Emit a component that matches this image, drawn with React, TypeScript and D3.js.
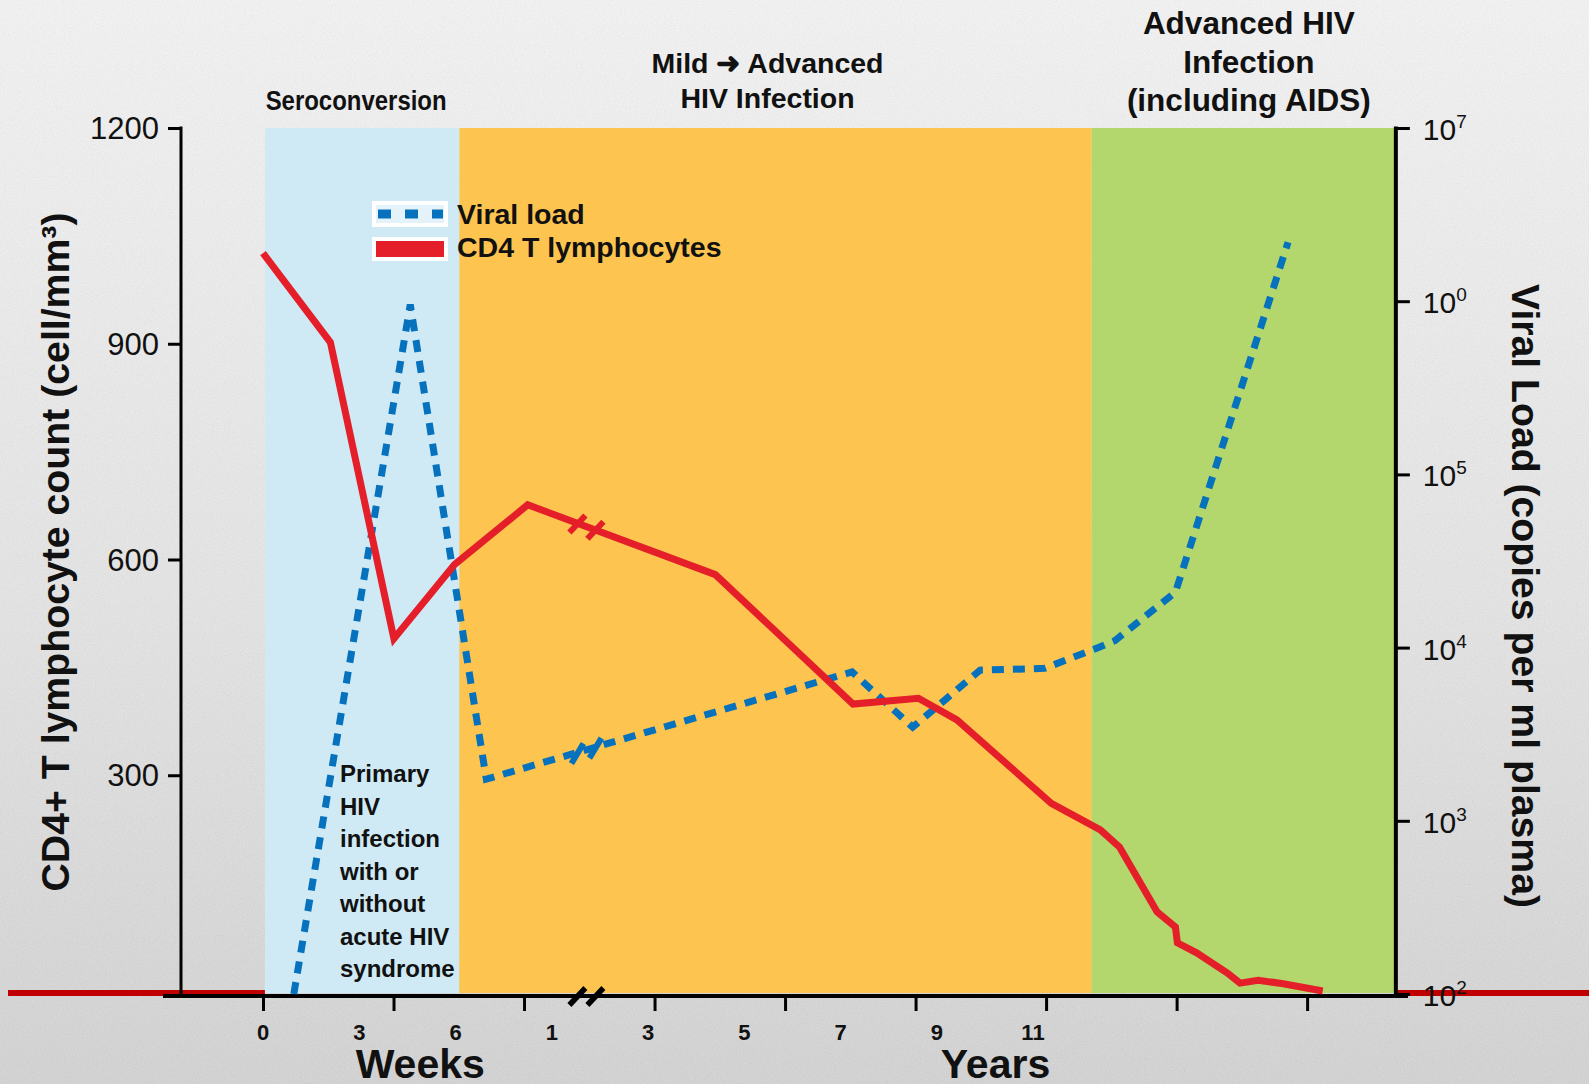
import React, { useRef, useEffect } from "react";
import * as d3 from "d3";

// x values are in axis-label units: 0..8 = the nine printed labels (0,3,6 weeks | 1..11 years)
const xTickLabels = ["0", "3", "6", "1", "3", "5", "7", "9", "11"];
const xLabelPos = [0, 1, 2, 3, 4, 5, 6, 7, 8];
const xTickPos = [0, 1.356, 2.712, 4.068, 5.424, 6.78, 8.136, 9.492, 10.848];

const cd4Ticks = [300, 600, 900, 1200];
const vlTicks = [1e2, 1e3, 1e4, 1e5, 1e6, 1e7];
const vlTickExp = ["2", "3", "4", "5", "0", "7"];

// CD4 T lymphocytes (cells/mm3)
const cd4X = [0, 0.7, 1.36, 1.99, 2.75, 4.7, 6.13, 6.81, 7.21, 8.19, 8.7, 8.9, 9.29, 9.48, 9.5, 9.7, 10.02, 10.15, 10.34, 10.6, 11.01];
const cd4Count = [1026, 902, 490, 593, 676, 579, 399, 407, 377, 261, 224, 200, 110, 89, 67, 53, 25, 11, 15, 10, 0];

// Viral load (copies per ml plasma)
const vlX = [0.32, 1.53, 2.32, 3.36, 6.12, 6.75, 7.45, 8.12, 8.68, 8.85, 9.48, 10.65];
const vlCopies = [100, 955000, 1740, 2570, 7240, 3470, 7410, 7590, 10000, 10960, 20900, 2190000];

const phaseStart = [0.02, 2.04, 8.61];
const phaseEnd = [2.04, 8.61, 11.77];
const phaseColors = ["#cfeaf4", "#fdc44f", "#b3d66d"];
const phaseTitles = [
  ["Seroconversion"],
  ["Mild \u279C Advanced", "HIV Infection"],
  ["Advanced HIV", "Infection", "(including AIDS)"],
];

const noteLines = ["Primary", "HIV", "infection", "with or", "without", "acute HIV", "syndrome"];
const breakAt = 3.36;

const W = 1589;
const H = 1084;
const FONT = "'Liberation Sans', Arial, Helvetica, sans-serif";

const interp = (xs: number[], ys: number[], t: number) => {
  for (let i = 0; i < xs.length - 1; i++) {
    if (t >= xs[i] && t <= xs[i + 1]) {
      const k = (t - xs[i]) / (xs[i + 1] - xs[i]);
      return ys[i] + k * (ys[i + 1] - ys[i]);
    }
  }
  return ys[ys.length - 1];
};

const App = () => {
  const ref = useRef<SVGSVGElement | null>(null);

  useEffect(() => {
    const svg = d3.select(ref.current);
    svg.selectAll("*").remove();

    const x = d3.scaleLinear().domain([0, 8]).range([263, 1033]);
    const yCd4 = d3.scaleLinear().domain([0, 1200]).range([991, 128]);
    const yVl = d3.scaleLog().domain([1e2, 1e7]).range([994, 128]);

    const top = 128;
    const axisY = 996;
    const leftX = 181;
    const rightX = x(phaseEnd[2]);

    // background
    const defs = svg.append("defs");
    const grad = defs
      .append("linearGradient")
      .attr("id", "bg")
      .attr("x1", 0)
      .attr("y1", 0)
      .attr("x2", 0)
      .attr("y2", 1);
    grad.append("stop").attr("offset", "0%").attr("stop-color", "#f5f5f5");
    grad.append("stop").attr("offset", "55%").attr("stop-color", "#e6e6e6");
    grad.append("stop").attr("offset", "100%").attr("stop-color", "#d4d4d4");
    const noise = defs.append("filter").attr("id", "noise");
    noise
      .append("feTurbulence")
      .attr("type", "fractalNoise")
      .attr("baseFrequency", 0.9)
      .attr("numOctaves", 2)
      .attr("seed", 4);
    noise
      .append("feColorMatrix")
      .attr("type", "matrix")
      .attr("values", "1 0 0 0 0  1 0 0 0 0  1 0 0 0 0  0 0 0 0 0.1");

    svg.append("rect").attr("width", W).attr("height", H).attr("fill", "url(#bg)");
    svg.append("rect").attr("width", W).attr("height", H).attr("filter", "url(#noise)");

    // phase bands
    svg
      .selectAll("rect.band")
      .data(phaseStart)
      .enter()
      .append("rect")
      .attr("class", "band")
      .attr("x", (d) => x(d))
      .attr("y", top)
      .attr("width", (d, i) => x(phaseEnd[i]) - x(d))
      .attr("height", 993 - top)
      .attr("fill", (d, i) => phaseColors[i]);

    // dark red base strip outside the bands
    const strip = svg.append("g").attr("stroke", "#c00000").attr("stroke-width", 6);
    strip.append("line").attr("x1", 8).attr("x2", x(phaseStart[0])).attr("y1", 993).attr("y2", 993);
    strip.append("line").attr("x1", rightX).attr("x2", W).attr("y1", 993).attr("y2", 993);

    // axes lines
    svg.append("line").attr("x1", 163).attr("x2", 1408).attr("y1", axisY).attr("y2", axisY)
      .attr("stroke", "#000").attr("stroke-width", 4);
    svg.append("line").attr("x1", leftX).attr("x2", leftX).attr("y1", top - 1.5).attr("y2", axisY)
      .attr("stroke", "#000").attr("stroke-width", 3);
    svg.append("line").attr("x1", rightX).attr("x2", rightX).attr("y1", top - 1.5).attr("y2", axisY)
      .attr("stroke", "#000").attr("stroke-width", 4);

    // left axis
    const gl = svg
      .append("g")
      .attr("transform", `translate(${leftX},0)`)
      .call(
        d3.axisLeft(yCd4).tickValues(cd4Ticks).tickSize(13).tickPadding(9).tickFormat(d3.format("d"))
      );
    gl.select(".domain").remove();
    gl.selectAll("line").attr("stroke", "#000").attr("stroke-width", 3);
    gl.selectAll("text")
      .attr("font-family", FONT)
      .attr("font-size", 31)
      .attr("fill", "#111")
      .attr("dy", "0.34em");

    // right axis
    const gr = svg
      .append("g")
      .attr("transform", `translate(${rightX},0)`)
      .call(d3.axisRight(yVl).tickValues(vlTicks).tickSize(14).tickFormat(() => ""));
    gr.select(".domain").remove();
    gr.selectAll("line").attr("stroke", "#000").attr("stroke-width", 3);
    const rl = svg
      .selectAll("text.vl")
      .data(vlTicks)
      .enter()
      .append("text")
      .attr("class", "vl")
      .attr("x", rightX + 27)
      .attr("y", (d) => yVl(d) + 12)
      .attr("font-family", FONT)
      .attr("font-size", 30)
      .attr("fill", "#111");
    rl.append("tspan").text("10");
    rl.append("tspan")
      .attr("dy", -12)
      .attr("font-size", 19)
      .text((d, i) => vlTickExp[i]);

    // bottom axis
    const gb = svg
      .append("g")
      .attr("transform", `translate(0,${axisY})`)
      .call(d3.axisBottom(x).tickValues(xTickPos).tickSize(15).tickFormat(() => ""));
    gb.select(".domain").remove();
    gb.selectAll("line").attr("stroke", "#000").attr("stroke-width", 3);
    svg
      .selectAll("text.xl")
      .data(xLabelPos)
      .enter()
      .append("text")
      .attr("class", "xl")
      .attr("x", (d) => x(d))
      .attr("y", 1040)
      .attr("text-anchor", "middle")
      .attr("font-family", FONT)
      .attr("font-weight", "bold")
      .attr("font-size", 22)
      .attr("fill", "#111")
      .text((d, i) => xTickLabels[i]);

    // axis break on bottom axis
    const bx = x(breakAt);
    [-9, 9].forEach((dx) => {
      svg.append("line")
        .attr("x1", bx + dx - 8).attr("y1", axisY + 9)
        .attr("x2", bx + dx + 8).attr("y2", axisY - 8)
        .attr("stroke", "#000").attr("stroke-width", 5.5);
    });

    // lines
    const cd4Data = cd4X.map((d, i) => [d, cd4Count[i]] as [number, number]);
    const vlData = vlX.map((d, i) => [d, vlCopies[i]] as [number, number]);

    svg.append("path")
      .datum(vlData)
      .attr("fill", "none")
      .attr("stroke", "#0672bd")
      .attr("stroke-width", 7)
      .attr("stroke-dasharray", "12 9")
      .attr("d", d3.line<[number, number]>().x((d) => x(d[0])).y((d) => yVl(d[1])));

    svg.append("path")
      .datum(cd4Data)
      .attr("fill", "none")
      .attr("stroke", "#e41f29")
      .attr("stroke-width", 7)
      .attr("stroke-linejoin", "miter")
      .attr("d", d3.line<[number, number]>().x((d) => x(d[0])).y((d) => yCd4(d[1])));

    // break marks on the lines
    const rby = yCd4(interp(cd4X, cd4Count, breakAt));
    const vby = yVl(Math.pow(10, interp(vlX, vlCopies.map((v) => Math.log10(v)), breakAt)));
    [-9, 9].forEach((dx) => {
      svg.append("line")
        .attr("x1", bx + dx - 8).attr("y1", rby + 9 + dx * 0.35)
        .attr("x2", bx + dx + 8).attr("y2", rby - 8 + dx * 0.35)
        .attr("stroke", "#e41f29").attr("stroke-width", 6);
      svg.append("line")
        .attr("x1", bx + dx - 6).attr("y1", vby + 11 - dx * 0.3)
        .attr("x2", bx + dx + 6).attr("y2", vby - 9 - dx * 0.3)
        .attr("stroke", "#0672bd").attr("stroke-width", 6);
    });

    // phase titles
    const titleLayout = [
      { size: 27, baselines: [110], lengths: [181] },
      { size: 28.5, baselines: [73, 108], lengths: [0, 0] },
      { size: 31.5, baselines: [34, 73, 111], lengths: [0, 0, 0] },
    ];
    const titleDx = [-6, -8, 5];
    phaseTitles.forEach((lines, i) => {
      const cx = (x(phaseStart[i]) + x(phaseEnd[i])) / 2 + titleDx[i];
      lines.forEach((t, j) => {
        const el = svg.append("text")
          .attr("x", cx)
          .attr("y", titleLayout[i].baselines[j])
          .attr("text-anchor", "middle")
          .attr("font-family", FONT)
          .attr("font-weight", "bold")
          .attr("font-size", titleLayout[i].size)
          .attr("fill", "#111")
          .text(t);
        if (titleLayout[i].lengths[j]) {
          el.attr("textLength", titleLayout[i].lengths[j]).attr("lengthAdjust", "spacingAndGlyphs");
        }
      });
    });

    // primary infection note
    svg.append("g")
      .selectAll("text")
      .data(noteLines)
      .enter()
      .append("text")
      .attr("x", 340)
      .attr("y", (d, i) => 782 + i * 32.5)
      .attr("font-family", FONT)
      .attr("font-weight", "bold")
      .attr("font-size", 24)
      .attr("fill", "#111")
      .text((d) => d);

    // axis titles
    svg.append("text")
      .attr("transform", "translate(69,552) rotate(-90)")
      .attr("text-anchor", "middle")
      .attr("font-family", FONT)
      .attr("font-weight", "bold")
      .attr("font-size", 38)
      .attr("fill", "#111")
      .attr("textLength", 679)
      .attr("lengthAdjust", "spacingAndGlyphs")
      .text("CD4+ T lymphocyte count (cell/mm\u00B3)");

    svg.append("text")
      .attr("transform", "translate(1512,596) rotate(90)")
      .attr("text-anchor", "middle")
      .attr("font-family", FONT)
      .attr("font-weight", "bold")
      .attr("font-size", 38)
      .attr("fill", "#111")
      .attr("textLength", 624)
      .attr("lengthAdjust", "spacingAndGlyphs")
      .text("Viral Load (copies per ml plasma)");

    const xTitles = [
      { t: "Weeks", at: 1, dx: 61 },
      { t: "Years", at: 7.6, dx: 1 },
    ];
    xTitles.forEach((d) => {
      svg.append("text")
        .attr("x", x(d.at) + d.dx)
        .attr("y", 1078)
        .attr("text-anchor", "middle")
        .attr("font-family", FONT)
        .attr("font-weight", "bold")
        .attr("font-size", 41)
        .attr("fill", "#111")
        .text(d.t);
    });

    // legend
    const lg = svg.append("g");
    lg.append("rect").attr("x", 374).attr("y", 203).attr("width", 72).attr("height", 22)
      .attr("fill", "#e4f3f9").attr("stroke", "#fff").attr("stroke-width", 4);
    lg.append("line").attr("x1", 378).attr("x2", 443).attr("y1", 214).attr("y2", 214)
      .attr("stroke", "#0672bd").attr("stroke-width", 9).attr("stroke-dasharray", "13 14");
    lg.append("rect").attr("x", 374).attr("y", 239).attr("width", 72).attr("height", 20)
      .attr("fill", "#e41f29").attr("stroke", "#fff").attr("stroke-width", 4);
    const legendText = ["Viral load", "CD4 T lymphocytes"];
    lg.selectAll("text")
      .data(legendText)
      .enter()
      .append("text")
      .attr("x", 457)
      .attr("y", (d, i) => 224 + i * 33)
      .attr("font-family", FONT)
      .attr("font-weight", "bold")
      .attr("font-size", 28.5)
      .attr("fill", "#111")
      .text((d) => d);
  }, []);

  return (
    <svg
      ref={ref}
      width={W}
      height={H}
      viewBox={`0 0 ${W} ${H}`}
      style={{ position: "absolute", left: 0, top: 0, display: "block" }}
    />
  );
};

export default App;
